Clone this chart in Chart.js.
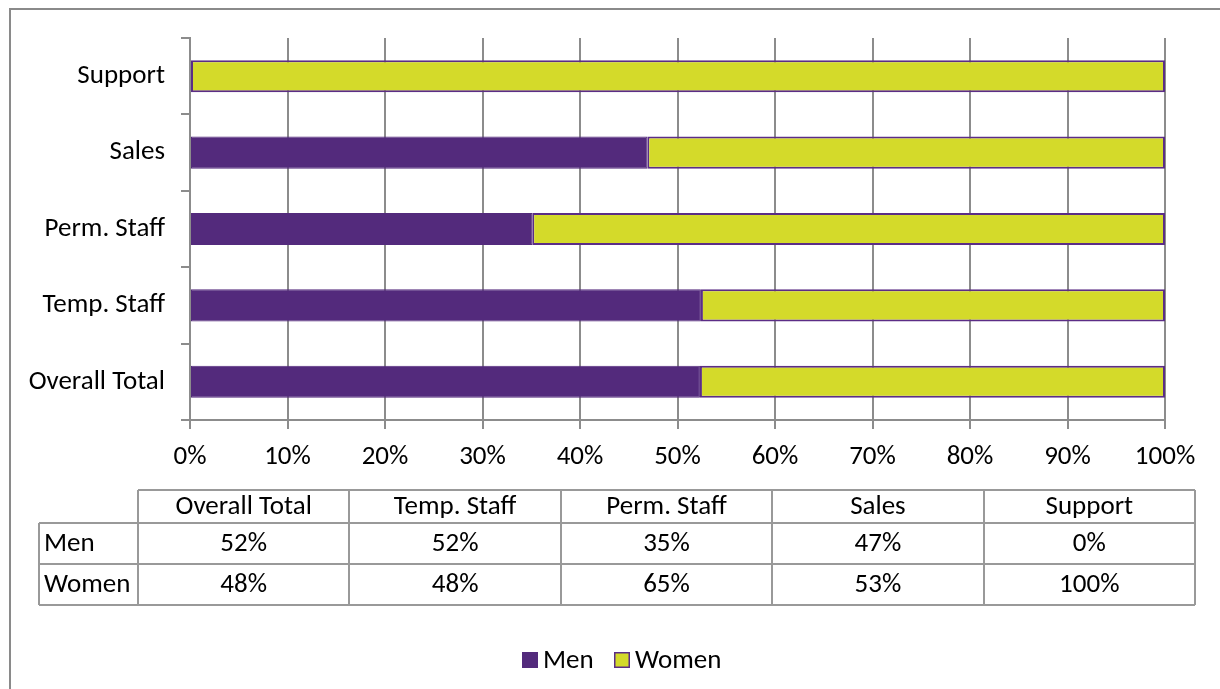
<!DOCTYPE html>
<html>
<head>
<meta charset="utf-8">
<script src="https://cdn.jsdelivr.net/npm/chart.js@4"></script>
<style>
  body { margin: 0; background: #ffffff; }
  #wrap { width: 1220px; height: 689px; }
</style>
</head>
<body>
<div id="wrap"><canvas id="staffChart" width="1220" height="689"></canvas></div>
<script>
'use strict';

// table order (left to right), also bottom to top on the chart
const categories = ['Overall Total', 'Temp. Staff', 'Perm. Staff', 'Sales', 'Support'];
const menShare = [52.3, 52.4, 35.1, 46.9, 0];
const womenShare = [47.7, 47.6, 64.9, 53.1, 100];
const seriesNames = ['Men', 'Women'];
const xTicks = [0, 10, 20, 30, 40, 50, 60, 70, 80, 90, 100];

const purple = '#532A7C';
const lime = '#D4DA2A';
const gridGray = '#8C8C8C';
const fontName = 'Carlito, Calibri, "Liberation Sans", sans-serif';
const textSize = 27;

Chart.defaults.font.family = fontName;
Chart.defaults.font.size = textSize;
Chart.defaults.color = '#000000';

// frame, data table and legend drawn round the chart
const tableAndFrame = {
    id: 'tableAndFrame',
    beforeDraw(chart) {
        const ctx = chart.ctx;
        ctx.save();
        ctx.fillStyle = '#ffffff';
        ctx.fillRect(0, 0, chart.width, chart.height);
        ctx.strokeStyle = '#8A8A8A';
        ctx.lineWidth = 2;
        ctx.strokeRect(10, 9, chart.width + 20, chart.height + 20);
        ctx.restore();
    },
    afterDraw(chart) {
        const ctx = chart.ctx;
        const left = 39, colStart = 138, right = 1195;
        const rows = [490, 523, 564, 605];
        const colW = (right - colStart) / categories.length;

        ctx.save();
        ctx.strokeStyle = '#999999';
        ctx.lineWidth = 2;
        ctx.beginPath();
        // header row
        ctx.moveTo(colStart, rows[0]); ctx.lineTo(right, rows[0]);
        for (let r = 1; r < rows.length; r++) {
            ctx.moveTo(left, rows[r]); ctx.lineTo(right, rows[r]);
        }
        ctx.moveTo(left, rows[1]); ctx.lineTo(left, rows[3]);
        for (let c = 0; c <= categories.length; c++) {
            const x = Math.round(colStart + c * colW);
            ctx.moveTo(x, rows[0]); ctx.lineTo(x, rows[3]);
        }
        ctx.stroke();

        ctx.fillStyle = '#000000';
        ctx.font = textSize + 'px ' + fontName;
        ctx.textBaseline = 'middle';
        ctx.textAlign = 'center';
        categories.forEach(function (cat, i) {
            const cx = colStart + (i + 0.5) * colW;
            ctx.fillText(cat, cx, (rows[0] + rows[1]) / 2 + 1);
            chart.data.datasets.forEach(function (ds, d) {
                ctx.fillText(Math.round(ds.data[i]) + '%', cx, (rows[d + 1] + rows[d + 2]) / 2 + 1);
            });
        });
        ctx.textAlign = 'left';
        chart.data.datasets.forEach(function (ds, d) {
            ctx.fillText(ds.label, 44, (rows[d + 1] + rows[d + 2]) / 2 + 1);
        });

        // legend
        const legendX = [522, 614];
        const legendY = 660;
        chart.data.datasets.forEach(function (ds, d) {
            const bx = legendX[d];
            ctx.fillStyle = ds.backgroundColor;
            ctx.fillRect(bx, legendY - 8, 16, 16);
            if (d === 1) {
                ctx.strokeStyle = ds.borderColor;
                ctx.lineWidth = 1.5;
                ctx.strokeRect(bx + 0.75, legendY - 7.25, 14.5, 14.5);
            }
            ctx.fillStyle = '#000000';
            ctx.fillText(ds.label, bx + 21, legendY + 1);
        });
        ctx.restore();
    }
};

new Chart(document.getElementById('staffChart'), {
    type: 'bar',
    data: {
        labels: categories,
        datasets: [
            {
                label: seriesNames[0],
                data: menShare,
                backgroundColor: purple,
                borderColor: purple,
                borderWidth: 1,
                borderSkipped: false,
                categoryPercentage: 1,
                barPercentage: 0.42
            },
            {
                label: seriesNames[1],
                data: womenShare,
                backgroundColor: lime,
                borderColor: '#5B2D86',
                borderWidth: 2,
                borderSkipped: false,
                categoryPercentage: 1,
                barPercentage: 0.42
            }
        ]
    },
    options: {
        indexAxis: 'y',
        responsive: false,
        animation: false,
        layout: {
            padding: { top: 38, left: 0, right: 55, bottom: 0 }
        },
        scales: {
            x: {
                stacked: true,
                min: 0,
                max: 100,
                afterBuildTicks: function (axis) {
                    axis.ticks = xTicks.map(function (v) { return { value: v }; });
                },
                ticks: {
                    padding: 12,
                    callback: function (v) { return v + '%'; }
                },
                grid: {
                    color: gridGray,
                    lineWidth: 2,
                    tickLength: 9
                },
                border: { display: true, color: gridGray, width: 2 },
                afterFit: function (axis) {
                    axis.height = 689 - 420;
                    axis.paddingLeft = 0;
                    axis.paddingRight = 0;
                }
            },
            y: {
                stacked: true,
                reverse: true,
                ticks: { padding: 16 },
                grid: {
                    offset: true,
                    drawOnChartArea: false,
                    color: gridGray,
                    lineWidth: 2,
                    tickLength: 9
                },
                border: { display: true, color: gridGray, width: 2 },
                afterFit: function (axis) {
                    axis.width = 190;
                    axis.paddingTop = 0;
                    axis.paddingBottom = 0;
                }
            }
        },
        plugins: {
            legend: { display: false },
            tooltip: { enabled: false }
        }
    },
    plugins: [tableAndFrame]
});
</script>
</body>
</html>
